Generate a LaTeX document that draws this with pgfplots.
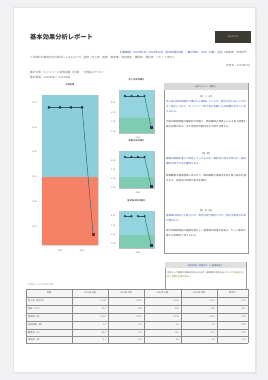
\documentclass[border=0pt]{standalone}
\usepackage{fontspec}
\setmainfont{Noto Sans CJK JP}
\usepackage{pgfplots}
\pgfplotsset{compat=1.18}
\XeTeXlinebreaklocale "ja"
\XeTeXlinebreakskip=0pt plus 0.2pt
\definecolor{pagebg}{HTML}{F1F1F3}
\definecolor{bluebg}{HTML}{8CCFDB}
\definecolor{redbg}{HTML}{F58166}
\definecolor{sblue}{HTML}{93D4DE}
\definecolor{sgreen}{HTML}{7ECDB2}
\definecolor{linec}{HTML}{3A5868}
\definecolor{markc}{HTML}{1E3A55}
\definecolor{lastc}{HTML}{7A2A20}
\definecolor{txtblue}{HTML}{3A5FA8}
\definecolor{txtgray}{HTML}{707070}
\definecolor{logoc}{HTML}{3B3A33}
\newcommand\tz{\fontsize{2.5}{5}\selectfont}
\newcommand\tzz{\fontsize{2.2}{4}\selectfont}
\newcommand\thd{\fontsize{2.7}{4}\selectfont}
\pgfplotsset{
  small/.style={scale only axis, anchor=south west, width=35bp,
    xmin=-0.9, xmax=4.45, ymin=0, ymax=1,
    axis line style={draw=black!25, line width=0.3pt},
    major tick length=0pt, xtick={2}, xticklabels={2023},
    tick label style={font=\tzz, text=black!60},
    title style={font=\tzz, at={(0.5,1)}, anchor=south, yshift=-0.5bp},
  },
  spl/.style={linec, line width=0.4pt, mark=*, mark size=0.9pt,
    mark options={fill=markc, draw=markc}},
}
\begin{document}
\begin{tikzpicture}[x=1bp,y=1bp]
\path[use as bounding box] (0,0) rectangle (268,380);
\fill[pagebg] (0,0) rectangle (268,380);
\fill[black!10] (15,6) rectangle (257,371);
\fill[white, draw=black!10, line width=0.3pt] (13,8) rectangle (255,373);
% header
\node[anchor=west, font=\fontsize{6.3}{7}\selectfont\bfseries, text=black!75, inner sep=0] at (30,343) {基本効果分析レポート};
\fill[logoc] (215,337) rectangle (251,349);
\node[font=\tzz, text=white!80!black] at (233,343) {ANALYTICS};
\node[anchor=east, font=\thd, inner sep=0] at (247,328) {\textcolor{txtblue}{対象期間：2023年1月〜2024年12月（前年同期比較）／集計単位：月次／対象：全店}\textcolor{txtgray}{（速報値）作成部門}};
\node[anchor=west, font=\thd, text=txtgray, inner sep=0] at (30,323) {※本資料の数値は社内集計によるものです。指標：売上高・客数・客単価・来店頻度・購買率・満足度・リピート率など};
\node[anchor=east, font=\thd, text=txtgray, inner sep=0] at (250,315) {作成日：2024年1月};
\node[anchor=west, font=\thd, text=txtgray, inner sep=0] at (30,308) {集計対象：キャンペーン実施店舗（全国）・全商品カテゴリー};
\node[anchor=west, font=\thd, text=txtgray, inner sep=0] at (30,303) {集計期間：2022年度 〜 2023年度};
% main chart
\begin{axis}[at={(42bp,135bp)}, anchor=south west, scale only axis,
  width=56bp, height=150bp,
  xmin=-0.64, xmax=4.45, ymin=-2.75, ymax=3.3,
  axis line style={draw=black!15, line width=0.3pt},
  major tick length=0pt,
  xtick={1,3}, xticklabels={2022,2023},
  ytick={-2,-1,0,1,2,3}, yticklabels={-2.00,-1.00,0.00,1.00,2.00,3.00},
  tick label style={font=\tzz, text=black!60},
  yticklabel style={xshift=-2bp},
  xticklabel style={yshift=-1bp},
  title={全体効果}, title style={font=\tzz, at={(0.5,1)}, anchor=south, yshift=-0.5bp},
]
\fill[bluebg] (axis cs:-0.64,0) rectangle (axis cs:4.45,3.3);
\fill[redbg] (axis cs:-0.64,-2.75) rectangle (axis cs:4.45,0);
\addplot[linec, line width=0.45pt, mark=*, mark size=1.2pt,
  mark options={fill=markc, draw=markc}] coordinates {(0,2.8)(1,2.8)(2,2.8)(3,2.8)};
\addplot[linec, line width=0.45pt] coordinates {(3,2.8)(4,-2.3)};
\addplot[only marks, mark=square*, mark size=1.1pt, color=lastc] coordinates {(4,-2.3)};
\end{axis}
% small charts
\begin{axis}[small, at={(119bp,247bp)}, height=43bp, title={売上 前年同期比},
  ytick={0.023,0.256,0.465,0.70}, yticklabels={-1.00,1.00,3.00,5.00}]
\fill[sblue] (axis cs:-0.9,0.35) rectangle (axis cs:4.45,1);
\fill[sgreen] (axis cs:-0.9,0) rectangle (axis cs:4.45,0.35);
\addplot[spl] coordinates {(0,0.86)(1,0.86)(2,0.86)(3,0.86)};
\addplot[linec, line width=0.4pt] coordinates {(3,0.86)(4,0.14)};
\addplot[only marks, mark=square*, mark size=0.9pt, color=markc] coordinates {(4,0.14)};
\end{axis}
\begin{axis}[small, at={(119bp,192bp)}, height=37bp, title={客数 前年同期比},
  ytick={0,0.24,0.49,0.73}, yticklabels={-1.00,1.00,3.00,5.00}]
\fill[sblue] (axis cs:-0.9,0.3) rectangle (axis cs:4.45,1);
\fill[sgreen] (axis cs:-0.9,0) rectangle (axis cs:4.45,0.3);
\addplot[spl] coordinates {(0,0.84)(1,0.84)(2,0.84)(3,0.84)};
\addplot[linec, line width=0.4pt] coordinates {(3,0.84)(4,0.05)};
\addplot[only marks, mark=square*, mark size=0.9pt, color=markc] coordinates {(4,0.05)};
\end{axis}
\begin{axis}[small, at={(119bp,132bp)}, height=37bp, title={客単価 前年同期比},
  ytick={0.11,0.35,0.59,0.86}, yticklabels={-1.00,1.00,3.00,5.00}]
\fill[sblue] (axis cs:-0.9,0.35) rectangle (axis cs:4.45,1);
\fill[sgreen] (axis cs:-0.9,0) rectangle (axis cs:4.45,0.35);
\addplot[spl] coordinates {(0,0.86)(1,0.86)};
\addplot[spl] coordinates {(2,0.86)(3,0.86)};
\addplot[linec, line width=0.4pt] coordinates {(3,0.86)(4,0.08)};
\addplot[only marks, mark=square*, mark size=0.9pt, color=markc] coordinates {(4,0.08)};
\end{axis}
% right panel
\draw[black!40, line width=0.4pt] (164,127) rectangle (248,297);
\fill[black!15] (164.3,290) rectangle (247.7,296.7);
\node[font=\tzz, text=black!70] at (206,293.3) {分析コメント（要約）};
\begin{scope}[every node/.style={anchor=north west, text width=80bp, inner sep=0, align=left}]
\node[font=\tzz, text=black!60, anchor=north, align=center] at (206,285) {【売上高】};
\node[font=\tz, text=txtblue] at (166,280) {売上高は前年同期比で横ばいに推移していたが、直近の月においては大きく減少しており、キャンペーン終了後の反動による影響が大きいと考えられる。};
\node[font=\tz, text=black!70] at (166,260) {今後は販促施策の継続的な実施と、商品構成の見直しによる売上回復を図る必要がある。また地域別の動向を引き続き注視する。};
\node[font=\tzz, text=black!60, anchor=north, align=center] at (206,228) {【客数】};
\node[font=\tz, text=txtblue] at (166,223) {客数は期間を通じて安定していたものの、最終月に減少が見られ、来店頻度の低下が主な要因である。};
\node[font=\tz, text=black!70] at (166,206) {新規顧客の獲得施策とあわせて、既存顧客の再来店を促す取り組みを強化する。会員向け特典の拡充を検討。};
\node[font=\tzz, text=black!60, anchor=north, align=center] at (206,171) {【客単価】};
\node[font=\tz, text=txtblue] at (166,166) {客単価は前半に上昇したが、後半は低下傾向となり、値引き販売の比率が増加した。};
\node[font=\tz, text=black!70] at (166,151) {高付加価値商品の提案を強化し、客単価の改善を目指す。セット販売の導入も効果的と考えられる。};
\end{scope}
% small box
\draw[black!40, line width=0.4pt] (165,90) rectangle (246,118);
\fill[black!12] (165.3,112) rectangle (245.7,117.7);
\node[font=\tzz, text=txtblue] at (205.5,114.8) {総合評価：効果あり（一部要改善）};
\node[anchor=north west, font=\tzz, text width=77bp, inner sep=0, text=black!65] at (167,109) {全体として施策の効果は認められるが、最終期の落ち込みについては\textcolor{olive}{追加の分析と対策が必要}である。};
% faint caption
\node[anchor=west, font=\tzz, text=black!40, inner sep=0] at (27,95) {※詳細データは下表を参照};
% table
\fill[black!4] (26,37) rectangle (248,91);
\foreach \y in {37,44,51,59,67,75,83,91} \draw[black!45, line width=0.3pt] (26,\y) -- (248,\y);
\foreach \x in {26,72,108,144,181,217,248} \draw[black!45, line width=0.3pt] (\x,37) -- (\x,91);
\foreach \x/\t in {49/指標,90/2022年上期,126/2022年下期,162.5/2023年上期,199/2023年下期,232.5/前年比} \node[font=\tzz, text=black!65] at (\x,87) {\t};
\foreach \y/\t in {79/売上高（百万円）,71/客数（千人）,63/客単価（円）,55/来店頻度（回）,47.5/購買率（％）,40.5/満足度（点）} \node[anchor=west, font=\tzz, text=black!65, inner sep=0] at (28,\y) {\t};
\foreach \y/\a/\b/\c/\d/\e in {79/{1,245}/{1,262}/{1,258}/{1,101}/87.5,71/412/425/420/398/94.7,63/{3,022}/{2,970}/{2,995}/{2,766}/92.4,55/2.4/2.5/2.5/2.2/88.0,47.5/36.2/37.0/36.8/33.1/89.9,40.5/4.1/4.2/4.2/3.9/92.9} {
  \node[anchor=east, font=\tzz, text=black!60, inner sep=0] at (106,\y) {\a};
  \node[anchor=east, font=\tzz, text=black!60, inner sep=0] at (142,\y) {\b};
  \node[anchor=east, font=\tzz, text=black!60, inner sep=0] at (179,\y) {\c};
  \node[anchor=east, font=\tzz, text=black!60, inner sep=0] at (215,\y) {\d};
  \node[anchor=east, font=\tzz, text=black!60, inner sep=0] at (246,\y) {\e};
}
\end{tikzpicture}
\end{document}
